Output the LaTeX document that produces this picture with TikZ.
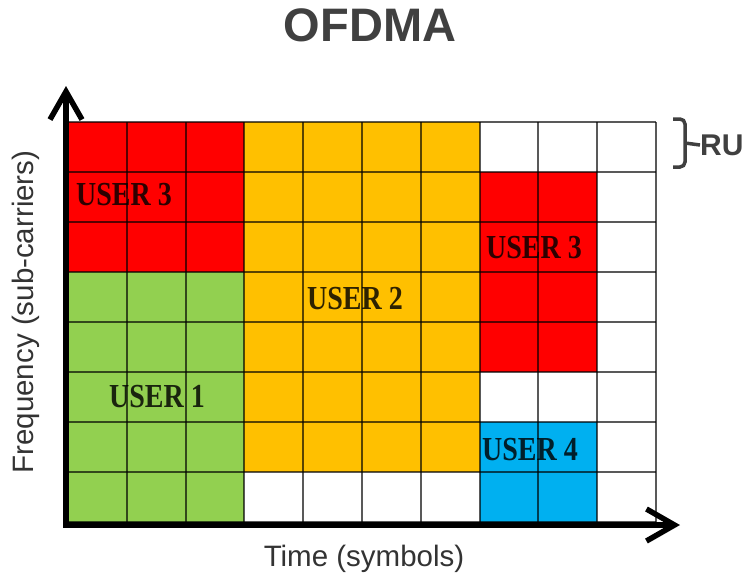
\documentclass[tikz,border=0pt]{standalone}
\usepackage{fontspec}
\setmainfont{Liberation Sans}
\newfontfamily\cellfont{Liberation Serif}
\usetikzlibrary{arrows.meta}

\definecolor{ured}{HTML}{FF0000}
\definecolor{uorange}{HTML}{FFC000}
\definecolor{ugreen}{HTML}{92D050}
\definecolor{ublue}{HTML}{00B0F0}
\definecolor{titlegray}{HTML}{404040}
\definecolor{labelgray}{HTML}{333333}

\tikzset{
  gridline/.style={draw=black, draw opacity=0.65, line width=2pt},
  axisline/.style={line width=5.5pt, black, line join=miter,
    {Straight Barb[length=28pt,width=32pt]}-{Straight Barb[length=28pt,width=32pt]}},
  userlabel/.style={font=\cellfont\bfseries\fontsize{28}{30}\selectfont,
    text=black, text opacity=0.82, inner sep=0pt},
  axislabel/.style={font=\fontsize{29.5}{32}\selectfont, text=labelgray, inner sep=0pt},
  rubrace/.style={draw=titlegray, line width=3.5pt, rounded corners=5pt},
}

\newcommand{\stretchy}[1]{\scalebox{1}[1.2]{#1}}

\begin{document}
\begin{tikzpicture}[x=1pt, y=-1pt]
\useasboundingbox (0,0) rectangle (753,574);

% resource grid: 10 symbols x 8 resource units
\begin{scope}[shift={(68pt,-122pt)}, x=58.8pt, y=-50pt]
  \fill[white]   (0,0) rectangle (10,8);
  \fill[ured]    (0,0) rectangle (3,3);
  \fill[ugreen]  (0,3) rectangle (3,8);
  \fill[uorange] (3,0) rectangle (7,7);
  \fill[ured]    (7,1) rectangle (9,5);
  \fill[ublue]   (7,6) rectangle (9,8);
  \foreach \c in {0,...,10} \draw[gridline] (\c,0) -- (\c,8);
  \foreach \r in {0,...,8} \draw[gridline] (0,\r) -- (10,\r);
\end{scope}

% user allocations
\node[userlabel] (user3a) at (124,195) {\stretchy{USER 3}};
\node[userlabel] (user2)  at (355,299) {\stretchy{USER 2}};
\node[userlabel] (user3b) at (534,248) {\stretchy{USER 3}};
\node[userlabel] (user1)  at (157,397) {\stretchy{USER 1}};
\node[userlabel] (user4)  at (530,450) {\stretchy{USER 4}};

% axes
\coordinate (ytip)   at (66,86);
\coordinate (origin) at (66,525);
\coordinate (xtip)   at (680,525);
\draw[axisline] (ytip) -- (origin) -- (xtip);

\node[axislabel, anchor=base] (timelabel) at (364,566) {Time (symbols)};
\node[axislabel, anchor=base, rotate=90] (freqlabel) at (33,312) {Frequency (sub-carriers)};

% title
\node[font=\bfseries\fontsize{47}{50}\selectfont, text=titlegray, inner sep=0pt]
  (title) at (370,25.5) {OFDMA};

% one resource unit, marked with a bracket
\node[font=\bfseries\fontsize{30}{32}\selectfont, text=titlegray, inner sep=0pt,
  anchor=west] (ru) at (700,145) {RU};
\coordinate (bracetop) at (673,119);
\coordinate (bracebot) at (673,167);
\coordinate (bracemid) at (685,143);
\draw[rubrace] (bracetop) -| (bracemid) |- (bracebot);
\draw[draw=titlegray, line width=3.5pt] (bracemid) -- (ru.west);
\end{tikzpicture}
\end{document}
